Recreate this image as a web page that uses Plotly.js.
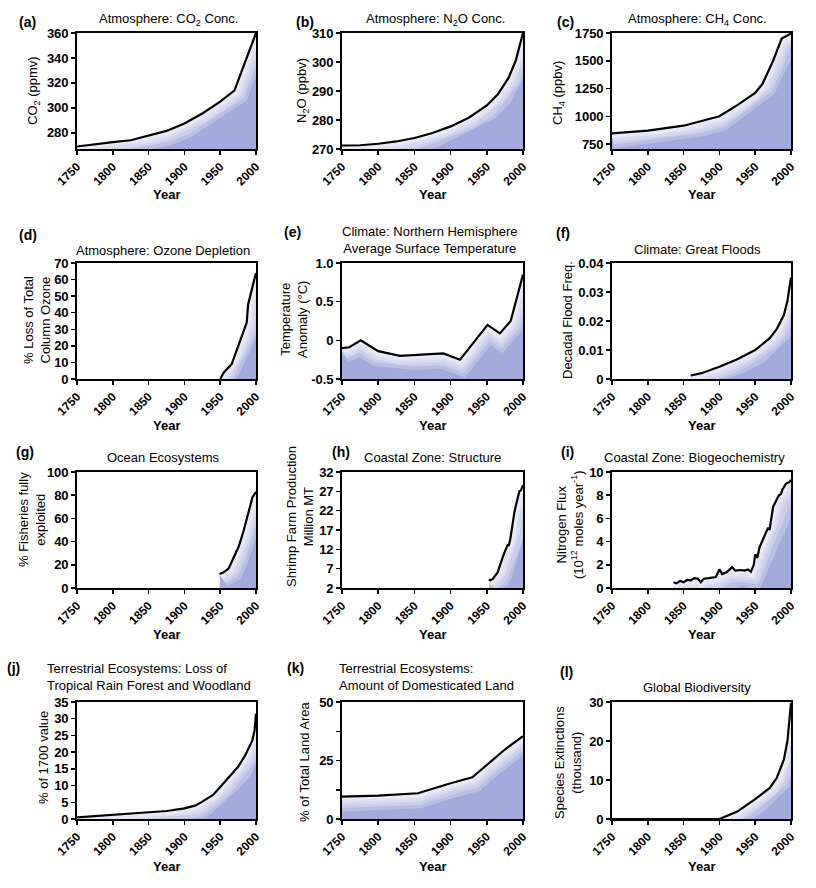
<!DOCTYPE html>
<html>
<head>
<meta charset="utf-8">
<script src="https://cdn.plot.ly/plotly-3.0.1.min.js"></script>
<style>html,body{margin:0;padding:0;background:#fff;}#chart{width:816px;height:888px;}</style>
</head>
<body>
<div id="chart"></div>
<script>
// ---------- data ----------
const yearRange = [1750, 2000];
const yearTicks = [1750, 1800, 1850, 1900, 1950, 2000];

const co2Years = [1750, 1775, 1800, 1825, 1850, 1875, 1900, 1925, 1950, 1970, 1985, 2000];
const co2Vals  = [269, 271, 272.5, 274, 277.5, 281.5, 287.5, 295.5, 305, 314, 337, 360];

const n2oYears = [1750, 1775, 1800, 1825, 1850, 1875, 1900, 1925, 1950, 1965, 1980, 1990, 2000];
const n2oVals  = [271.2, 271.3, 271.8, 272.6, 273.8, 275.5, 277.8, 280.8, 285, 288.8, 294.5, 300.5, 310];

const ch4Years = [1750, 1800, 1850, 1875, 1900, 1925, 1950, 1960, 1975, 1987, 2000];
const ch4Vals  = [845, 870, 915, 955, 1000, 1100, 1210, 1290, 1500, 1700, 1745];

const ozoneYears = [1950, 1955, 1966, 1972, 1978, 1983, 1987, 1989, 1993, 1997, 2000];
const ozoneVals  = [0, 4, 9, 16, 23, 29, 34, 45, 53, 59, 64];

const tempYears = [1750, 1760, 1776, 1800, 1830, 1850, 1890, 1913, 1951, 1968, 1983, 2000];
const tempVals  = [-0.1, -0.09, 0.0, -0.14, -0.2, -0.19, -0.17, -0.25, 0.2, 0.09, 0.25, 0.85];

const floodYears = [1860, 1875, 1900, 1925, 1950, 1970, 1980, 1990, 1995, 2000];
const floodVals  = [0.0012, 0.002, 0.0042, 0.0068, 0.0100, 0.014, 0.0172, 0.022, 0.027, 0.035];

const fishYears = [1949, 1955, 1962, 1970, 1976, 1983, 1990, 1995, 2000];
const fishVals  = [12, 13.5, 17, 28, 36, 50, 66, 78, 83];

const shrimpYears = [1953, 1955, 1958, 1961, 1963, 1965, 1967, 1969, 1971, 1973, 1975, 1977, 1979, 1980, 1982, 1984, 1986, 1988, 1990, 1992, 1994, 1995, 1997, 1998, 2000];
const shrimpVals  = [4.2, 4.0, 4.3, 5.0, 5.3, 6.0, 7.2, 8.6, 9.4, 10.5, 11.5, 12.6, 13.3, 12.8, 14.2, 16.5, 19.5, 21.5, 23.2, 24.8, 26.5, 27.0, 27.2, 27.6, 28.6];

const nitroYears = [1836, 1840, 1845, 1850, 1855, 1860, 1865, 1870, 1874, 1878, 1885, 1895, 1900, 1904, 1910, 1918, 1922, 1930, 1935, 1940, 1944, 1948, 1950, 1953, 1956, 1960, 1965, 1968, 1970, 1972, 1975, 1979, 1983, 1986, 1988, 1993, 1997, 2000];
const nitroVals  = [0.5, 0.4, 0.6, 0.5, 0.7, 0.65, 0.85, 0.8, 0.5, 0.8, 0.85, 0.95, 1.6, 1.2, 1.35, 1.8, 1.5, 1.55, 1.5, 1.6, 1.4, 2.0, 2.9, 2.6, 3.5, 4.1, 4.7, 5.2, 5.0, 6.0, 7.0, 7.5, 8.0, 8.1, 8.5, 9.0, 9.1, 9.3];

const forestYears = [1750, 1800, 1850, 1875, 1900, 1915, 1925, 1940, 1950, 1960, 1975, 1985, 1995, 1998, 2000];
const forestVals  = [0.5, 1.2, 1.9, 2.4, 3.2, 4.0, 5.2, 7.2, 9.6, 12.1, 15.6, 19.1, 23.6, 26.5, 31.5];

const landYears = [1750, 1800, 1855, 1900, 1930, 1950, 1975, 2000];
const landVals  = [9.6, 10.0, 11.0, 15.3, 17.8, 23.2, 29.7, 35.4];

const extYears = [1750, 1900, 1925, 1950, 1970, 1980, 1990, 1995, 2000];
const extVals  = [0, 0, 1.9, 5.1, 7.9, 10.5, 15.2, 20, 29.8];

// ---------- styling ----------
const FONT = 'Liberation Sans, Arial, sans-serif';
const FILL = 'rgb(164,171,220)';
const W = 816, H = 888;

const cols = [[77, 256], [342, 523], [612, 791]];
const rows = [[33, 149], [263, 379], [472, 588], [702, 819]];
const yearLabelY = [194, 425, 634, 866];

const panels = [
  {x: co2Years, y: co2Vals, range: [267, 360], tickvals: [280, 300, 320, 340, 360]},
  {x: n2oYears, y: n2oVals, range: [270, 310], tickvals: [270, 280, 290, 300, 310]},
  {x: ch4Years, y: ch4Vals, range: [705, 1750], tickvals: [750, 1000, 1250, 1500, 1750]},
  {x: ozoneYears, y: ozoneVals, range: [0, 70], tickvals: [0, 10, 20, 30, 40, 50, 60, 70]},
  {x: tempYears, y: tempVals, range: [-0.5, 1.0], tickvals: [-0.5, 0, 0.5, 1.0], ticktext: ['-0.5', '0', '0.5', '1.0'], baseline: true},
  {x: floodYears, y: floodVals, range: [0, 0.04], tickvals: [0, 0.01, 0.02, 0.03, 0.04], ticktext: ['0', '0.01', '0.02', '0.03', '0.04']},
  {x: fishYears, y: fishVals, range: [0, 100], tickvals: [0, 20, 40, 60, 80, 100]},
  {x: shrimpYears, y: shrimpVals, range: [2, 32], tickvals: [2, 7, 12, 17, 22, 27, 32]},
  {x: nitroYears, y: nitroVals, range: [0, 10], tickvals: [0, 2, 4, 6, 8, 10]},
  {x: forestYears, y: forestVals, range: [0, 35], tickvals: [0, 5, 10, 15, 20, 25, 30, 35]},
  {x: landYears, y: landVals, range: [0, 50], tickvals: [0, 12.5, 25, 37.5, 50], ticktext: ['0', '', '25', '', '50']},
  {x: extYears, y: extVals, range: [0, 30], tickvals: [0, 10, 20, 30]}
];

const yTitles = [
  {t: 'CO<sub>2</sub> (ppmv)', x: 33, y: 91},
  {t: 'N<sub>2</sub>O (ppbv)', x: 302, y: 91},
  {t: 'CH<sub>4</sub> (ppbv)', x: 559, y: 93},
  {t: '% Loss of Total<br>Column Ozone', x: 37, y: 320},
  {t: 'Temperature<br>Anomaly (°C)', x: 294, y: 320},
  {t: 'Decadal Flood Freq.', x: 567, y: 320},
  {t: '% Fisheries fully<br>exploited', x: 32, y: 520},
  {t: 'Shrimp Farm Production<br>Million MT', x: 300, y: 517},
  {t: 'Nitrogen Flux<br>(10<sup>12</sup> moles year<sup>-1</sup>)', x: 570, y: 525},
  {t: '% of 1700 value', x: 43, y: 758},
  {t: '% of Total Land Area', x: 304, y: 762},
  {t: 'Species Extinctions<br>(thousand)', x: 568, y: 763}
];

const titles = [
  {t: 'Atmosphere: CO<sub>2</sub> Conc.', x: 168, y: 20, align: 'center'},
  {t: 'Atmosphere: N<sub>2</sub>O Conc.', x: 435, y: 20, align: 'center'},
  {t: 'Atmosphere: CH<sub>4</sub> Conc.', x: 697, y: 20, align: 'center'},
  {t: 'Atmosphere: Ozone Depletion', x: 163, y: 250, align: 'center'},
  {t: 'Climate: Northern Hemisphere<br>Average Surface Temperature', x: 430, y: 240, align: 'center'},
  {t: 'Climate: Great Floods', x: 697, y: 249, align: 'center'},
  {t: 'Ocean Ecosystems', x: 163, y: 457, align: 'center'},
  {t: 'Coastal Zone: Structure', x: 432, y: 457, align: 'center'},
  {t: 'Coastal Zone: Biogeochemistry', x: 694, y: 457, align: 'center'},
  {t: 'Terrestrial Ecosystems: Loss of<br>Tropical Rain Forest and Woodland', x: 45, y: 677, align: 'left'},
  {t: 'Terrestrial Ecosystems:<br>Amount of Domesticated Land', x: 337, y: 677, align: 'left'},
  {t: 'Global Biodiversity', x: 697, y: 687, align: 'center'}
];
const labels = [
  {t: '(a)', x: 27, y: 22}, {t: '(b)', x: 305, y: 22}, {t: '(c)', x: 565, y: 22},
  {t: '(d)', x: 28, y: 235}, {t: '(e)', x: 292, y: 232}, {t: '(f)', x: 563, y: 233},
  {t: '(g)', x: 25, y: 452}, {t: '(h)', x: 341, y: 452}, {t: '(i)', x: 567, y: 452},
  {t: '(j)', x: 13, y: 668}, {t: '(k)', x: 295, y: 668}, {t: '(l)', x: 566, y: 672}
];

const traces = [];
const layout = {
  width: W, height: H,
  margin: {l: 0, r: 0, t: 0, b: 0},
  paper_bgcolor: '#fff', plot_bgcolor: '#fff',
  showlegend: false,
  font: {family: FONT, color: '#000', size: 12},
  annotations: []
};

const NONE = {width: 0, color: 'rgba(0,0,0,0)'};
const GLOW_WIDTHS = [30, 23, 17, 12, 8, 4];

panels.forEach((p, i) => {
  const n = i + 1;
  const xa = n === 1 ? 'x' : 'x' + n;
  const ya = n === 1 ? 'y' : 'y' + n;
  const c = cols[i % 3], r = rows[Math.floor(i / 3)];
  const ax = {xaxis: xa, yaxis: ya, mode: 'lines'};

  // filled area under the curve
  if (p.baseline) {
    traces.push({...ax, x: p.x, y: p.x.map(() => p.range[0]), line: NONE});
    traces.push({...ax, x: p.x, y: p.y, fill: 'tonexty', fillcolor: FILL, line: NONE});
  } else {
    traces.push({...ax, x: p.x, y: p.y, fill: 'tozeroy', fillcolor: FILL, line: NONE});
  }
  // soft pale glow just under the outline
  GLOW_WIDTHS.forEach(w => traces.push({...ax, x: p.x, y: p.y, line: {width: w, color: 'rgba(255,255,255,0.24)'}}));
  // white cover above the curve (and left of its start) so the glow only shows below it
  traces.push({...ax, x: yearRange, y: yearRange.map(() => p.range[1]), line: NONE});
  traces.push({...ax, x: [yearRange[0], p.x[0]].concat(p.x), y: [p.range[0], p.range[0]].concat(p.y),
    fill: 'tonexty', fillcolor: '#ffffff', line: NONE});
  // outline
  traces.push({...ax, x: p.x, y: p.y, line: {width: 2.2, color: '#000'}});

  layout['xaxis' + (n === 1 ? '' : n)] = {
    domain: [c[0] / W, c[1] / W], anchor: ya,
    range: yearRange, tickvals: yearTicks, tickangle: -45,
    ticks: 'outside', ticklen: 4, tickwidth: 1.5, tickcolor: '#000',
    showline: true, mirror: true, linewidth: 1.8, linecolor: '#000',
    showgrid: false, zeroline: false,
    tickfont: {family: FONT, size: 12, color: '#000', weight: 'bold'}
  };
  const yax = {
    domain: [1 - r[1] / H, 1 - r[0] / H], anchor: xa,
    range: p.range, tickvals: p.tickvals,
    ticks: 'outside', ticklen: 4, tickwidth: 1.5, tickcolor: '#000',
    showline: true, mirror: true, linewidth: 1.8, linecolor: '#000',
    showgrid: false, zeroline: false,
    tickfont: {family: FONT, size: 13, color: '#000', weight: 'bold'}
  };
  if (p.ticktext) yax.ticktext = p.ticktext;
  layout['yaxis' + (n === 1 ? '' : n)] = yax;

  layout.annotations.push({
    text: '<b>Year</b>', xref: 'paper', yref: 'paper',
    x: (c[0] + c[1]) / 2 / W, y: 1 - yearLabelY[Math.floor(i / 3)] / H,
    xanchor: 'center', yanchor: 'middle', showarrow: false,
    font: {family: FONT, size: 13, color: '#000'}
  });
});

yTitles.forEach(t => layout.annotations.push({
  text: t.t, xref: 'paper', yref: 'paper', x: t.x / W, y: 1 - t.y / H,
  xanchor: 'center', yanchor: 'middle', textangle: -90, showarrow: false,
  font: {family: FONT, size: 13, color: '#000'}
}));
titles.forEach(t => layout.annotations.push({
  text: t.t, xref: 'paper', yref: 'paper', x: t.x / W, y: 1 - t.y / H,
  xanchor: t.align === 'left' ? 'left' : 'center', yanchor: 'middle', align: t.align,
  showarrow: false, font: {family: FONT, size: 13, color: '#000'}
}));
labels.forEach(l => layout.annotations.push({
  text: '<b>' + l.t + '</b>', xref: 'paper', yref: 'paper', x: l.x / W, y: 1 - l.y / H,
  xanchor: 'center', yanchor: 'middle', showarrow: false,
  font: {family: FONT, size: 14, color: '#000'}
}));

Plotly.newPlot('chart', traces, layout, {staticPlot: true, displayModeBar: false});
</script>
</body>
</html>
